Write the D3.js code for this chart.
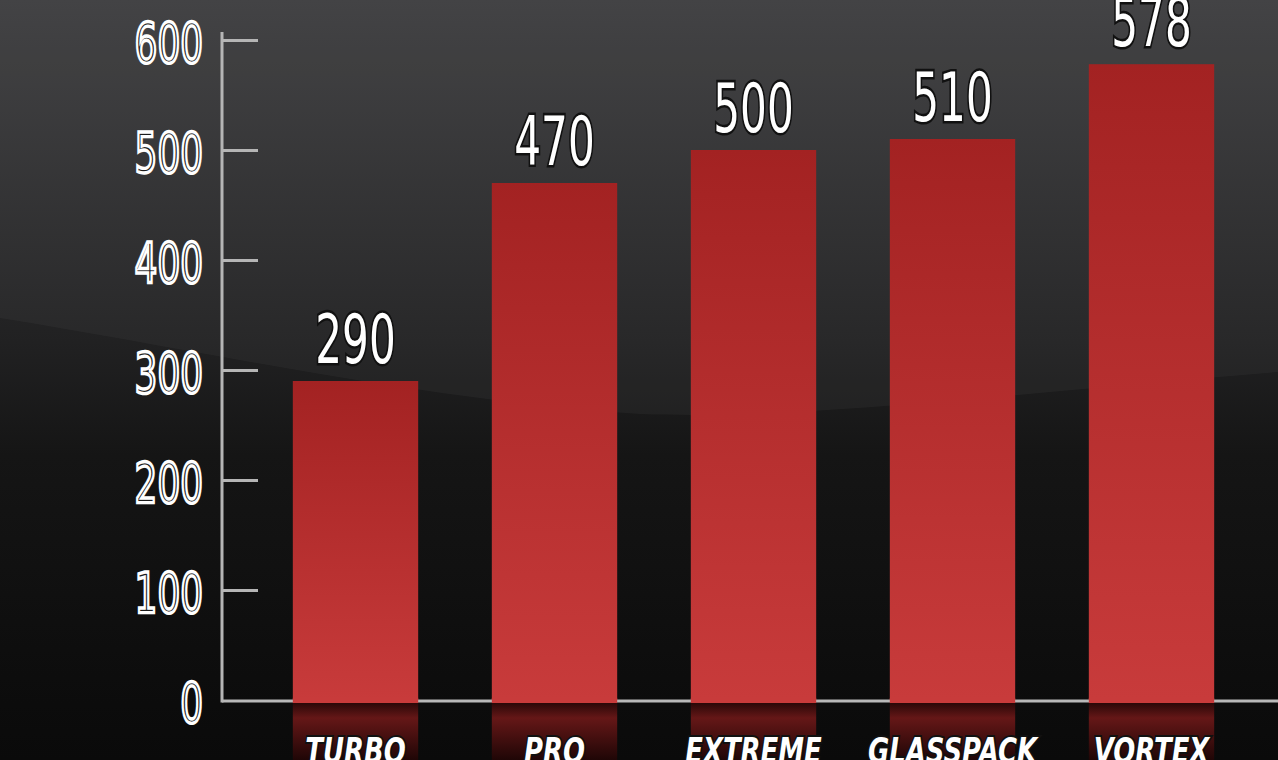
<!DOCTYPE html>
<html>
<head>
<meta charset="utf-8">
<script src="https://cdn.jsdelivr.net/npm/d3@7"></script>
<style>
  html, body { margin: 0; padding: 0; background: #111; overflow: hidden; }
  svg { display: block; }
</style>
</head>
<body>
<div id="chart"></div>
<script>
const categories = ["TURBO", "PRO", "EXTREME", "GLASSPACK", "VORTEX"];
const values = [290, 470, 500, 510, 578];
const tickValues = [0, 100, 200, 300, 400, 500, 600];

const width = 1278, height = 760;

const svg = d3.select("#chart").append("svg")
    .attr("width", width)
    .attr("height", height);

const defs = svg.append("defs");

const bg = defs.append("linearGradient")
    .attr("id", "bg").attr("x1", 0).attr("y1", 0).attr("x2", 0).attr("y2", 1);
bg.append("stop").attr("offset", "0").attr("stop-color", "#3d3d3f");
bg.append("stop").attr("offset", "0.45").attr("stop-color", "#212122");
bg.append("stop").attr("offset", "0.6").attr("stop-color", "#151515");
bg.append("stop").attr("offset", "1").attr("stop-color", "#0a0a0a");

const barGrad = defs.append("linearGradient")
    .attr("id", "bar").attr("x1", 0).attr("y1", 0).attr("x2", 0).attr("y2", 1);
barGrad.append("stop").attr("offset", "0").attr("stop-color", "#a32222");
barGrad.append("stop").attr("offset", "1").attr("stop-color", "#c83b3b");

const refl = defs.append("linearGradient")
    .attr("id", "refl").attr("x1", 0).attr("y1", 0).attr("x2", 0).attr("y2", 1);
refl.append("stop").attr("offset", "0").attr("stop-color", "#2a0808");
refl.append("stop").attr("offset", "0.25").attr("stop-color", "#651717");
refl.append("stop").attr("offset", "1").attr("stop-color", "#1a0505");

svg.append("rect")
    .attr("width", width).attr("height", height)
    .attr("fill", "url(#bg)");

// soft lighter sweep across the middle
svg.append("path")
    .attr("d", "M0,0 L1278,0 L1278,372 C1000,395 800,420 640,414 C420,400 200,350 0,318 Z")
    .attr("fill", "#ffffff")
    .attr("opacity", 0.035);

const x = d3.scaleBand()
    .domain(categories)
    .range([256, 1251])
    .paddingInner(0.37)
    .paddingOuter(0.185);

const y = d3.scaleLinear()
    .domain([0, 600])
    .range([700, 40]);

const data = categories.map((c, i) => ({name: c, value: values[i]}));

// reflections under the baseline
svg.selectAll(".refl")
    .data(data)
    .enter().append("rect")
    .attr("class", "refl")
    .attr("x", d => x(d.name))
    .attr("y", y(0) + 3)
    .attr("width", x.bandwidth())
    .attr("height", height - y(0))
    .attr("fill", "url(#refl)");

svg.selectAll(".bar")
    .data(data)
    .enter().append("rect")
    .attr("class", "bar")
    .attr("x", d => x(d.name))
    .attr("y", d => y(d.value))
    .attr("width", x.bandwidth())
    .attr("height", d => y(0) - y(d.value))
    .attr("fill", "url(#bar)");

// baseline (drawn between bars)
svg.append("line")
    .attr("x1", 222).attr("x2", width)
    .attr("y1", y(0) + 1).attr("y2", y(0) + 1)
    .attr("stroke", "#b8b8b8")
    .attr("stroke-width", 3);

svg.selectAll(".bar2")
    .data(data)
    .enter().append("rect")
    .attr("x", d => x(d.name))
    .attr("y", y(0) - 2)
    .attr("width", x.bandwidth())
    .attr("height", 5)
    .attr("fill", "#c83b3b");

// y axis
const yAxis = d3.axisRight(y)
    .tickValues(tickValues)
    .tickSize(36)
    .tickFormat("");

const axisG = svg.append("g")
    .attr("transform", "translate(222,0)")
    .call(yAxis);
axisG.select(".domain").remove();
axisG.selectAll(".tick line")
    .attr("stroke", "#b5b5b5")
    .attr("stroke-width", 3)
    .filter(d => d === 0).remove();

svg.append("line")
    .attr("x1", 222).attr("x2", 222)
    .attr("y1", 32).attr("y2", y(0) + 2.5)
    .attr("stroke", "#b5b5b5")
    .attr("stroke-width", 3);

const font = "'DejaVu Sans', sans-serif";

// tick labels, squeezed horizontally to look condensed
svg.selectAll(".ylab")
    .data(tickValues)
    .enter().append("g")
    .attr("class", "ylab")
    .attr("transform", d => `translate(203,${y(d) + 22}) scale(0.64,1)`)
    .append("text")
    .attr("text-anchor", "end")
    .attr("font-family", font)
    .attr("font-size", 56)
    .attr("fill", "#1c1c1c")
    .attr("stroke", "#ffffff")
    .attr("stroke-width", 3.4)
    .text(d => d);

svg.selectAll(".vlab")
    .data(data)
    .enter().append("g")
    .attr("class", "vlab")
    .attr("transform", d => `translate(${x(d.name) + x.bandwidth() / 2},${y(d.value) - 18}) scale(0.62,1)`)
    .append("text")
    .attr("text-anchor", "middle")
    .attr("font-family", font)
    .attr("font-size", 68)
    .attr("fill", "#ffffff")
    .attr("stroke", "#111")
    .attr("stroke-width", 5)
    .attr("paint-order", "stroke")
    .text(d => d.value);

svg.selectAll(".xlab")
    .data(data)
    .enter().append("g")
    .attr("class", "xlab")
    .attr("transform", d => `translate(${x(d.name) + x.bandwidth() / 2},763) scale(0.74,1)`)
    .append("text")
    .attr("text-anchor", "middle")
    .attr("font-family", font)
    .attr("font-size", 35)
    .attr("font-weight", "bold")
    .attr("font-style", "italic")
    .attr("fill", "#ffffff")
    .attr("stroke", "#111")
    .attr("stroke-width", 4)
    .attr("paint-order", "stroke")
    .text(d => d.name);
</script>
</body>
</html>
